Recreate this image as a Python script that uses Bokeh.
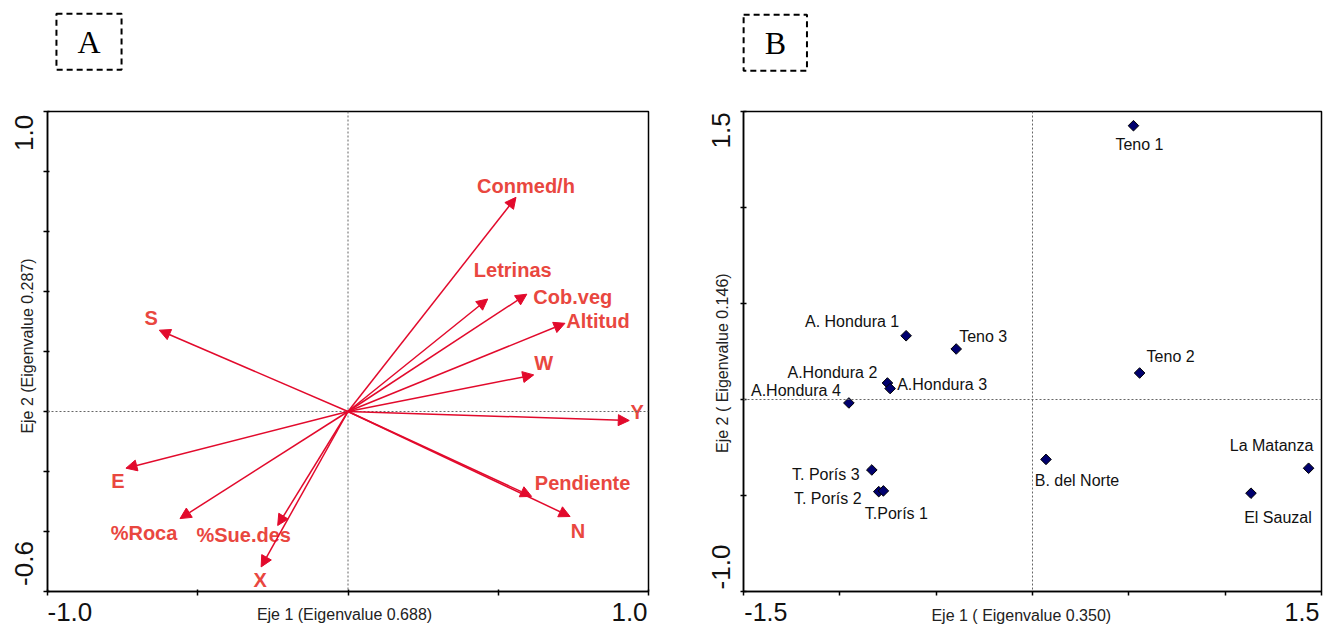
import numpy as np
from bokeh.plotting import figure
from bokeh.models import (ColumnDataSource, Arrow, NormalHead, Span, Label, FixedTicker,
                          Range1d, LinearAxis)
from bokeh.layouts import row
from bokeh.embed import file_html
from bokeh.resources import INLINE
from bokeh.core.properties import value

# ---------------- Data ----------------
# Panel A: environmental variables (biplot vectors)
env_vars = ["Conmed/h", "Letrinas", "Cob.veg", "Altitud", "W", "Y", "Pendiente",
            "N", "S", "E", "%Roca", "%Sue.des", "X"]
env_ax1 = [0.559, 0.465, 0.595, 0.722, 0.618, 0.936, 0.611, 0.739, -0.628, -0.739, -0.559, -0.234, -0.289]
env_ax2 = [0.714, 0.375, 0.391, 0.294, 0.122, -0.030, -0.283, -0.350, 0.271, -0.189, -0.357, -0.380, -0.518]

# Panel B: sites
sites = ["Teno 1", "A. Hondura 1", "Teno 3", "Teno 2", "A.Hondura 2", "A.Hondura 3",
         "A.Hondura 4", "T. Porís 3", "T. Porís 2", "T.Porís 1", "B. del Norte",
         "La Matanza", "El Sauzal"]
site_ax1 = [0.524, -0.656, -0.396, 0.556, -0.753, -0.739, -0.953, -0.834, -0.798, -0.774, 0.070, 1.433, 1.134]
site_ax2 = [1.426, 0.332, 0.263, 0.138, 0.086, 0.057, -0.018, -0.367, -0.480, -0.476, -0.312, -0.358, -0.488]

axis_a_ticks_x = [-1.0, -0.5, 0.0, 0.5, 1.0]
axis_a_ticks_y = [-0.6, -0.4, -0.2, 0.0, 0.2, 0.4, 0.6, 0.8, 1.0]
axis_b_ticks_x = [-1.5, -1.0, -0.5, 0.0, 0.5, 1.0, 1.5]
axis_b_ticks_y = [-1.0, -0.5, 0.0, 0.5, 1.0, 1.5]

title_a_x = "Eje 1 (Eigenvalue 0.688)"
title_a_y = "Eje 2 (Eigenvalue 0.287)"
title_b_x = "Eje 1  ( Eigenvalue 0.350)"
title_b_y = "Eje 2  ( Eigenvalue 0.146)"

# ---------------- Layout / style ----------------
# label offsets (pixels) relative to the arrow tips / points
env_dx = [10, 25, 46, 33, 10, 8, 51, 8, -8, -8, -36, -34, -1]
env_dy = [-11, -29, 3, -2, -12, -9, -13, 14, -12, 13, 14, 9, 13]
site_dx = [6, -54, 27, 31, -55, 52, -53, -46, -51, 13, 31, -37, 27]
site_dy = [19, -14, -13, -17, -10, -4, -12, 5, 7, 23, 21, -23, 24]

ARROW_RED = "#e20a2c"
LABEL_RED = "#e9473f"
SANS = "Liberation Sans"
SERIF = "Liberation Serif"
H = 626

# Panel A geometry (pixels within figure A)
WA = 668
A_L, A_R, A_T, A_B = 47, 648, 111, 592
# Panel B geometry (figure B placed at x = WA)
WB = 1330 - WA
B_L, B_R, B_T, B_B = 75, 653, 110, 591


def style(p, xticks, yticks):
    p.grid.visible = False
    p.outline_line_color = "black"
    p.outline_line_width = 1.5
    p.background_fill_color = "white"
    p.border_fill_color = "white"
    for ax, ticks in ((p.xaxis, xticks), (p.yaxis, yticks)):
        ax.ticker = FixedTicker(ticks=ticks)
        ax.major_label_text_color = None
        ax.major_label_text_font_size = "1px"
        ax.axis_line_color = "black"
        ax.axis_line_width = 1.5
        ax.major_tick_line_color = "black"
        ax.major_tick_line_width = 1.5
        ax.major_tick_in = 2
        ax.major_tick_out = 4
        ax.minor_tick_line_color = None
        ax.major_label_standoff = 0


def text_axis(p, side, locs, texts, size, standoff, orientation, color):
    """An axis without line or ticks, used only to place end labels / titles."""
    locs = [float(v) for v in locs]
    ax = LinearAxis(ticker=FixedTicker(ticks=locs),
                    major_label_overrides={v: t for v, t in zip(locs, texts)})
    ax.axis_line_color = None
    ax.major_tick_line_color = None
    ax.minor_tick_line_color = None
    ax.major_tick_in = 0
    ax.major_tick_out = 0
    ax.major_label_text_font = SANS
    ax.major_label_text_font_size = size
    ax.major_label_text_color = color
    ax.major_label_standoff = standoff
    ax.major_label_orientation = orientation
    p.add_layout(ax, side)


def box_letter(p, x, y, letter):
    p.add_layout(Label(x=x, y=y, text=letter, text_font=SERIF, text_font_size="32px",
                       text_align="center", text_baseline="middle", text_color="black",
                       border_line_color="black", border_line_dash="6 4", border_line_width=2,
                       padding=dict(x=21, y=10)), "above")


# ---------------- Panel A ----------------
pA = figure(width=WA, height=H, x_range=Range1d(-1.0, 1.0), y_range=Range1d(-0.6, 1.0),
            output_backend="svg", toolbar_location=None,
            min_border_left=A_L, min_border_right=WA - A_R,
            min_border_top=A_T, min_border_bottom=H - A_B)
style(pA, axis_a_ticks_x, axis_a_ticks_y)


def ax_x(px):
    return -1.0 + (px - A_L) / (A_R - A_L) * 2.0


def ay_y(py):
    return 1.0 - (py - A_T) / (A_B - A_T) * 1.6


pA.add_layout(Span(location=0, dimension="height", line_color="#666666", line_dash="2 2", line_width=1))
pA.add_layout(Span(location=0, dimension="width", line_color="#666666", line_dash="2 2", line_width=1))

n = len(env_vars)
srcA = ColumnDataSource(dict(x0=[0.0] * n, y0=[0.0] * n, x1=env_ax1, y1=env_ax2,
                             name=env_vars, dx=env_dx, dy=env_dy))
pA.add_layout(Arrow(end=NormalHead(size=11, fill_color=ARROW_RED, line_color=ARROW_RED),
                    x_start="x0", y_start="y0", x_end="x1", y_end="y1", source=srcA,
                    line_color=ARROW_RED, line_width=1.5))
pA.text(x="x1", y="y1", text="name", x_offset="dx", y_offset="dy", source=srcA,
        text_align="center", text_baseline="middle", text_font=value(SANS),
        text_font_style="bold", text_font_size="20px", text_color=LABEL_RED)

# end labels and titles (stacked outside the frame)
text_axis(pA, "below", [ax_x(69.4), ax_x(629)], ["-1.0", "1.0"], "26px", 7, "horizontal", "#111111")
text_axis(pA, "below", [ax_x(344)], [title_a_x], "16px", -18, "horizontal", "#222222")
text_axis(pA, "left", [ay_y(132.5), ay_y(564)], ["1.0", "-0.6"], "26px", 10, "parallel", "#111111")
text_axis(pA, "left", [ay_y(346)], [title_a_y], "16px", -24, "parallel", "#222222")
box_letter(pA, ax_x(88.5), ay_y(41), "A")

# ---------------- Panel B ----------------
pB = figure(width=WB, height=H, x_range=Range1d(-1.5, 1.5), y_range=Range1d(-1.0, 1.5),
            output_backend="svg", toolbar_location=None,
            min_border_left=B_L, min_border_right=WB - B_R,
            min_border_top=B_T, min_border_bottom=H - B_B)
style(pB, axis_b_ticks_x, axis_b_ticks_y)
pB.xaxis.major_tick_in = 0
pB.yaxis.major_tick_in = 3
pB.yaxis.major_tick_out = 3


def bx_x(px):
    # px in page coordinates
    return -1.5 + (px - WA - B_L) / (B_R - B_L) * 3.0


def by_y(py):
    return 1.5 - (py - B_T) / (B_B - B_T) * 2.5


pB.add_layout(Span(location=0, dimension="height", line_color="#666666", line_dash="2 2", line_width=1))
pB.add_layout(Span(location=0, dimension="width", line_color="#666666", line_dash="2 2", line_width=1))

srcB = ColumnDataSource(dict(x=site_ax1, y=site_ax2, name=sites, dx=site_dx, dy=site_dy))
pB.scatter(x="x", y="y", source=srcB, marker="square", angle=np.pi / 4, size=7.5,
           fill_color="#00006e", line_color="black", line_width=1)
pB.text(x="x", y="y", text="name", x_offset="dx", y_offset="dy", source=srcB,
        text_align="center", text_baseline="middle", text_font=value(SANS),
        text_font_size="16px", text_color="#111111")

text_axis(pB, "below", [bx_x(765.4), bx_x(1301.5)], ["-1.5", "1.5"], "25px", 7, "horizontal", "#111111")
text_axis(pB, "below", [bx_x(1023)], [title_b_x], "16px", -17, "horizontal", "#222222")
text_axis(pB, "left", [by_y(129), by_y(566.5)], ["1.5", "-1.0"], "26px", 10, "parallel", "#111111")
text_axis(pB, "left", [by_y(360)], [title_b_y], "16px", -22, "parallel", "#222222")
box_letter(pB, bx_x(774.8), by_y(41), "B")

layout = row(pA, pB, spacing=0)
open("out.html", "w").write(file_html(layout, INLINE))
